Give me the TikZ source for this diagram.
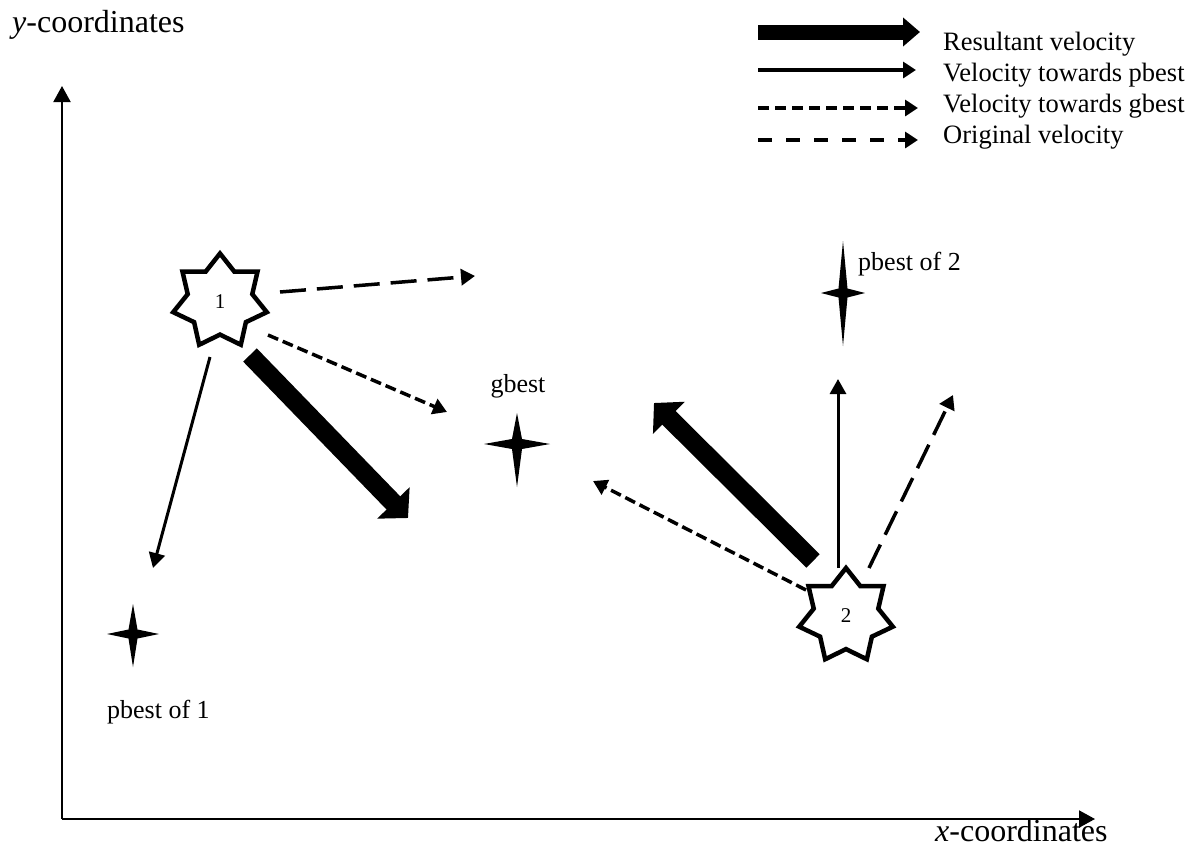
\documentclass[tikz,border=0pt]{standalone}
\usepackage{fontspec}
\setmainfont{Liberation Serif}
\usetikzlibrary{arrows.meta,shapes.geometric}

% four-pointed filled star: centre, top arm, bottom arm, half width, inner radius
\newcommand\sparkle[5]{%
  \fill[shift={(#1)}] (0,-#2) -- (#5,-#5) -- (#4,0) -- (#5,#5) -- (0,#3)
    -- (-#5,#5) -- (-#4,0) -- (-#5,-#5) -- cycle;}

\begin{document}
\begin{tikzpicture}[x=1pt,y=-1pt,
  axis/.style={line width=2pt,-{Triangle[length=16pt,width=17pt]}},
  resvel/.style={line width=19pt,-{Triangle[length=21pt,width=44pt]}},
  pvel/.style={line width=3pt,-{Triangle[length=15pt,width=16pt]}},
  gvel/.style={line width=3.5pt,dash pattern=on 11pt off 5pt,-{Triangle[length=14pt,width=16pt]}},
  ovel/.style={line width=3.5pt,dash pattern=on 26pt off 11pt,-{Triangle[length=14pt,width=16pt]}},
  legres/.style={line width=15pt,-{Triangle[length=17pt,width=28pt]}},
  legp/.style={line width=3.5pt,-{Triangle[length=13pt,width=16pt]}},
  legg/.style={line width=3.5pt,dash pattern=on 11pt off 6pt,-{Triangle[length=13pt,width=16pt]}},
  lego/.style={line width=3.5pt,dash pattern=on 14pt off 14pt,-{Triangle[length=13pt,width=16pt]}},
  particle/.style={star,star points=7,star point ratio=1.45,draw,line width=4.5pt,
    minimum size=96pt,inner sep=0pt,font=\fontsize{21}{25}\selectfont},
  lbl/.style={font=\fontsize{26}{31}\selectfont,inner sep=0pt},
  leglbl/.style={font=\fontsize{26.5}{31}\selectfont,inner sep=0pt},
  axlbl/.style={font=\fontsize{32}{38}\selectfont,inner sep=0pt}
]
\useasboundingbox (0,0) rectangle (1197,849);

% axes
\coordinate (O) at (62,819);
\coordinate (ytip) at (62,86);
\coordinate (xtip) at (1095,819);
\draw[axis] (O) -- (ytip);
\draw[axis] (O) -- (xtip);
\node[axlbl,anchor=base west] (ylab) at (12,32) {\textit{y}-coordinates};
\node[axlbl,anchor=base west] (xlab) at (935,841) {\textit{x}-coordinates};

% particles
\node[particle] (s1) at (220,301.5) {1};
\node[particle] (s2) at (846,616) {2};

% best positions
\coordinate (g) at (517,444);
\coordinate (p1) at (133,634);
\coordinate (p2) at (843,293);
\sparkle{g}{31}{43}{33}{5}
\sparkle{p1}{30}{33}{26}{4.5}
\sparkle{p2}{52}{53}{22}{4.5}
\node[lbl,anchor=base] (glab) at (518,392) {gbest};
\node[lbl,anchor=base west] (p1lab) at (107,718) {pbest of 1};
\node[lbl,anchor=base west] (p2lab) at (858,270) {pbest of 2};

% velocities of particle 1
\coordinate (a1o) at (280,292);  \coordinate (b1o) at (475,276);
\coordinate (a1g) at (268,335);  \coordinate (b1g) at (447,412);
\coordinate (a1r) at (250,355);  \coordinate (b1r) at (408,518);
\coordinate (a1p) at (210,357);  \coordinate (b1p) at (153,568);
\draw[ovel] (a1o) -- (b1o);
\draw[gvel] (a1g) -- (b1g);
\draw[resvel] (a1r) -- (b1r);
\draw[pvel] (a1p) -- (b1p);

% velocities of particle 2
\coordinate (a2r) at (813,561);  \coordinate (b2r) at (654,403);
\coordinate (a2p) at (838,568);  \coordinate (b2p) at (838,379);
\coordinate (a2o) at (869,568);  \coordinate (b2o) at (953,395);
\coordinate (a2g) at (806,590);  \coordinate (b2g) at (593,481);
\draw[resvel] (a2r) -- (b2r);
\draw[pvel] (a2p) -- (b2p);
\draw[ovel] (a2o) -- (b2o);
\draw[gvel] (a2g) -- (b2g);

% legend
\coordinate (l1a) at (758,32);   \coordinate (l1b) at (920,32);
\coordinate (l2a) at (758,70);   \coordinate (l2b) at (916,70);
\coordinate (l3a) at (758,108);  \coordinate (l3b) at (918,108);
\coordinate (l4a) at (758,140);  \coordinate (l4b) at (918,140);
\draw[legres] (l1a) -- (l1b);
\draw[legp] (l2a) -- (l2b);
\draw[legg] (l3a) -- (l3b);
\draw[lego] (l4a) -- (l4b);
\node[leglbl,anchor=base west] (t1) at (943,50) {Resultant velocity};
\node[leglbl,anchor=base west] (t2) at (943,81) {Velocity towards pbest};
\node[leglbl,anchor=base west] (t3) at (943,112) {Velocity towards gbest};
\node[leglbl,anchor=base west] (t4) at (943,143) {Original velocity};
\end{tikzpicture}
\end{document}
